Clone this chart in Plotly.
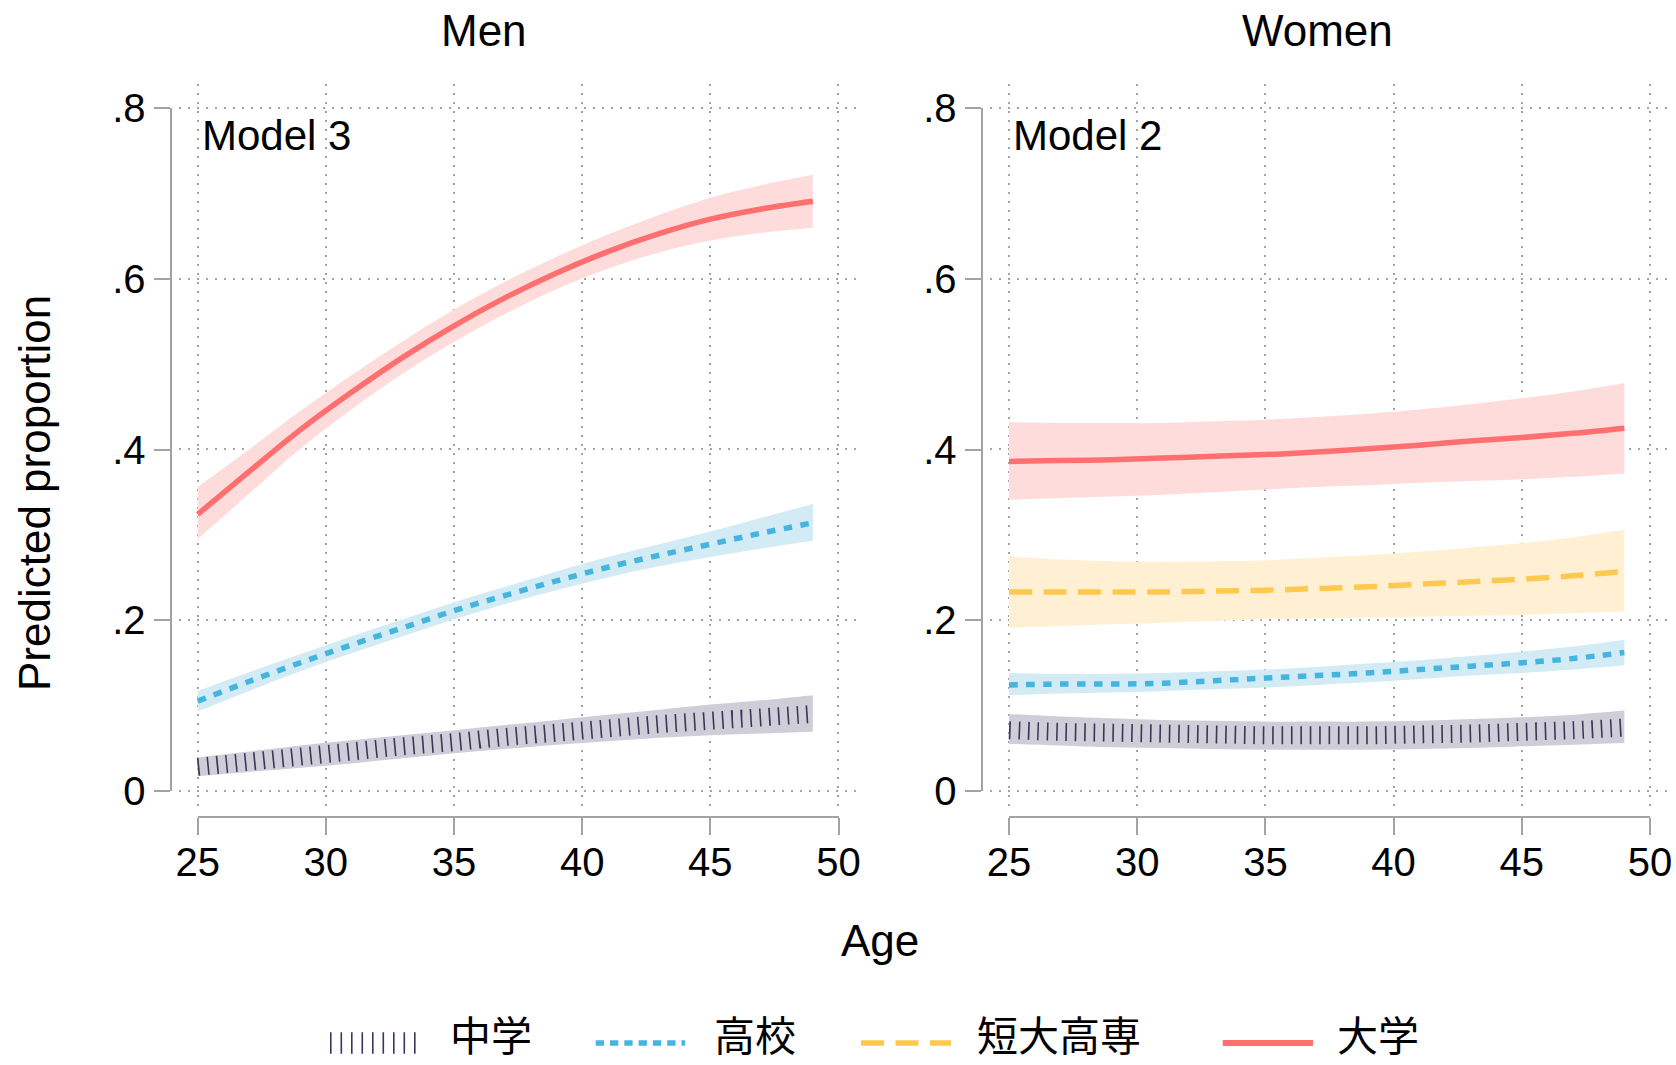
import plotly.graph_objects as go

W, H = 1676, 1065

# ---------------- data ----------------
ages = [25, 27, 29, 31, 33, 35, 37, 39, 41, 43, 45, 47, 49]
groups = ["中学", "高校", "短大高専", "大学"]

# Men (Model 3)
men_chu = [0.028, 0.034, 0.040, 0.046, 0.052, 0.057, 0.063, 0.068, 0.073, 0.078, 0.082, 0.086, 0.090]
men_chu_lo = [0.017, 0.022, 0.027, 0.032, 0.038, 0.044, 0.049, 0.054, 0.058, 0.062, 0.065, 0.067, 0.069]
men_chu_hi = [0.039, 0.046, 0.053, 0.059, 0.065, 0.071, 0.077, 0.083, 0.089, 0.095, 0.101, 0.106, 0.112]

men_kou = [0.105, 0.128, 0.150, 0.171, 0.191, 0.211, 0.229, 0.246, 0.262, 0.276, 0.289, 0.302, 0.314]
men_kou_lo = [0.093, 0.117, 0.140, 0.161, 0.181, 0.201, 0.219, 0.235, 0.250, 0.263, 0.274, 0.284, 0.293]
men_kou_hi = [0.117, 0.139, 0.160, 0.181, 0.201, 0.221, 0.239, 0.257, 0.274, 0.289, 0.304, 0.320, 0.336]

men_dai = [0.324, 0.374, 0.423, 0.467, 0.508, 0.545, 0.578, 0.607, 0.632, 0.653, 0.670, 0.682, 0.691]
men_dai_lo = [0.295, 0.348, 0.401, 0.447, 0.489, 0.526, 0.559, 0.588, 0.612, 0.631, 0.645, 0.654, 0.660]
men_dai_hi = [0.356, 0.400, 0.445, 0.487, 0.527, 0.564, 0.597, 0.626, 0.652, 0.675, 0.695, 0.710, 0.722]

# Women (Model 2)
wom_chu = [0.071, 0.069, 0.068, 0.067, 0.066, 0.065, 0.065, 0.065, 0.066, 0.067, 0.069, 0.071, 0.074]
wom_chu_lo = [0.055, 0.053, 0.051, 0.050, 0.049, 0.048, 0.048, 0.048, 0.049, 0.050, 0.052, 0.054, 0.056]
wom_chu_hi = [0.090, 0.087, 0.085, 0.083, 0.082, 0.081, 0.081, 0.081, 0.082, 0.084, 0.086, 0.089, 0.094]

wom_kou = [0.124, 0.125, 0.125, 0.126, 0.129, 0.132, 0.135, 0.138, 0.142, 0.146, 0.150, 0.155, 0.162]
wom_kou_lo = [0.112, 0.114, 0.115, 0.117, 0.119, 0.121, 0.124, 0.127, 0.131, 0.135, 0.138, 0.142, 0.147]
wom_kou_hi = [0.138, 0.137, 0.137, 0.138, 0.140, 0.142, 0.145, 0.149, 0.153, 0.158, 0.163, 0.169, 0.177]

wom_tan = [0.233, 0.233, 0.233, 0.233, 0.234, 0.235, 0.237, 0.239, 0.242, 0.245, 0.248, 0.252, 0.257]
wom_tan_lo = [0.191, 0.193, 0.195, 0.197, 0.199, 0.201, 0.202, 0.203, 0.204, 0.205, 0.206, 0.208, 0.210]
wom_tan_hi = [0.275, 0.271, 0.269, 0.268, 0.269, 0.270, 0.273, 0.276, 0.280, 0.285, 0.290, 0.297, 0.306]

wom_dai = [0.386, 0.387, 0.388, 0.390, 0.392, 0.394, 0.397, 0.401, 0.405, 0.410, 0.414, 0.419, 0.425]
wom_dai_lo = [0.341, 0.343, 0.345, 0.347, 0.350, 0.353, 0.356, 0.358, 0.361, 0.363, 0.365, 0.368, 0.372]
wom_dai_hi = [0.432, 0.431, 0.431, 0.431, 0.433, 0.435, 0.438, 0.442, 0.447, 0.453, 0.460, 0.468, 0.478]

x_ticks = [25, 30, 35, 40, 45, 50]
y_ticks = [0, 0.2, 0.4, 0.6, 0.8]
y_ticktext = ["0", ".2", ".4", ".6", ".8"]
panel_titles = ["Men", "Women"]
model_labels = ["Model 3", "Model 2"]

# ---------------- styles ----------------
LINE_COL = {"中学": "#38375a", "高校": "#45b5e0", "短大高専": "#ffc94f", "大学": "#ff6f6f"}
BAND_COL = {"中学": "#cfcdd8", "高校": "#d2ebf5", "短大高専": "#fff0d3", "大学": "#ffdcdc"}
LINE_W = {"中学": 18, "高校": 5.5, "短大高専": 5.5, "大学": 5.5}
LINE_DASH = {"中学": "1.6px,7.8px", "高校": "8.5px,8.5px",
             "短大高専": "23px,11.5px", "大学": "solid"}
AXCOL = "#a3a3a3"
LATIN = "Liberation Sans, Arial, sans-serif"
CJK = "Noto Sans CJK JP"


def px(x):
    return x / W


def py(y):
    return 1 - y / H


fig = go.Figure()

panels = [
    ("x", "y", [("中学", men_chu, men_chu_lo, men_chu_hi),
                ("高校", men_kou, men_kou_lo, men_kou_hi),
                ("大学", men_dai, men_dai_lo, men_dai_hi)]),
    ("x2", "y2", [("中学", wom_chu, wom_chu_lo, wom_chu_hi),
                  ("高校", wom_kou, wom_kou_lo, wom_kou_hi),
                  ("短大高専", wom_tan, wom_tan_lo, wom_tan_hi),
                  ("大学", wom_dai, wom_dai_lo, wom_dai_hi)]),
]

for xa, ya, series in panels:
    for name, mid, lo, hi in series:
        fig.add_trace(go.Scatter(x=ages, y=lo, xaxis=xa, yaxis=ya, mode="lines",
                                 line=dict(width=0, shape="spline", color=BAND_COL[name]),
                                 showlegend=False, hoverinfo="skip"))
        fig.add_trace(go.Scatter(x=ages, y=hi, xaxis=xa, yaxis=ya, mode="lines",
                                 line=dict(width=0, shape="spline", color=BAND_COL[name]),
                                 fill="tonexty", fillcolor=BAND_COL[name],
                                 showlegend=False, hoverinfo="skip"))
        fig.add_trace(go.Scatter(x=ages, y=mid, xaxis=xa, yaxis=ya, mode="lines", name=name,
                                 line=dict(width=LINE_W[name], shape="spline",
                                           color=LINE_COL[name], dash=LINE_DASH[name]),
                                 showlegend=False))

# dummy traces to host the tick axes
for xa, ya in [("x3", "y3"), ("x4", "y4")]:
    fig.add_trace(go.Scatter(x=[30], y=[0.4], xaxis=xa, yaxis=ya, mode="markers",
                             marker=dict(opacity=0), showlegend=False, hoverinfo="skip"))

# ---------------- geometry ----------------
X25 = [197.7, 1009.0]
X50 = [838.5, 1650.0]
Y0, Y8 = 790.7, 108.3
XRANGE = [24.27, 50.76]
YRANGE = [-0.025, 0.8285]
AX_Y = 816.7
AX_X = [170.7, 981.7]

grid_common = dict(showgrid=True, gridcolor=AXCOL, gridwidth=1.5, griddash="2px,7px",
                   zeroline=False, showline=False, ticks="", showticklabels=False,
                   fixedrange=True, automargin=False)

layout = dict(width=W, height=H, margin=dict(l=0, r=0, t=0, b=0, pad=0, autoexpand=False),
              paper_bgcolor="white", plot_bgcolor="rgba(0,0,0,0)",
              showlegend=False, font=dict(family=LATIN, color="black"))

main_names = [("xaxis", "yaxis"), ("xaxis2", "yaxis2")]
tick_names = [("xaxis3", "yaxis3"), ("xaxis4", "yaxis4")]
anchors = [("y", "x"), ("y2", "x2")]
for i in range(2):
    sc = (X50[i] - X25[i]) / 25.0
    left = X25[i] - (25 - XRANGE[0]) * sc
    right = X50[i] + (XRANGE[1] - 50) * sc
    ysc = (Y0 - Y8) / 0.8
    top = Y8 - (YRANGE[1] - 0.8) * ysc
    bot = Y0 - YRANGE[0] * ysc
    xn, yn = main_names[i]
    layout[xn] = dict(domain=[px(left), px(right)], range=XRANGE, anchor=anchors[i][0],
                      tickvals=x_ticks, **grid_common)
    layout[yn] = dict(domain=[py(bot), py(top)], range=YRANGE, anchor=anchors[i][1],
                      tickvals=y_ticks, **grid_common)
    txn, tyn = tick_names[i]
    layout[txn] = dict(domain=[px(X25[i]), px(X50[i])], range=[25, 50], anchor="free",
                       position=py(AX_Y), showline=True, linecolor=AXCOL, linewidth=2.4,
                       ticks="outside", ticklen=17, tickwidth=2.4, tickcolor=AXCOL,
                       tickvals=x_ticks, ticktext=[str(v) for v in x_ticks],
                       ticklabelstandoff=-7,
                       tickfont=dict(size=40, family=LATIN, color="black"),
                       showgrid=False, zeroline=False, fixedrange=True, automargin=False)
    layout[tyn] = dict(domain=[py(Y0), py(Y8)], range=[0, 0.8], anchor="free",
                       position=px(AX_X[i]), showline=True, linecolor=AXCOL, linewidth=2.4,
                       ticks="outside", ticklen=16, tickwidth=2.4, tickcolor=AXCOL,
                       tickvals=y_ticks, ticktext=y_ticktext,
                       tickfont=dict(size=40, family=LATIN, color="black"),
                       showgrid=False, zeroline=False, fixedrange=True, automargin=False)

fig.update_layout(**layout)

# ---------------- text ----------------
ann = []
title_x = [483.7, 1317.5]
model_x = [200.0, 1011.0]
for i in range(2):
    ann.append(dict(text=panel_titles[i], x=px(title_x[i]), y=py(31), xref="paper", yref="paper",
                    xanchor="center", yanchor="middle", showarrow=False,
                    font=dict(size=44, family=LATIN, color="black")))
    ann.append(dict(text=model_labels[i], x=px(model_x[i]), y=py(136), xref="paper", yref="paper",
                    xanchor="left", yanchor="middle", showarrow=False,
                    font=dict(size=42, family=LATIN, color="black")))
ann.append(dict(text="Predicted proportion", x=px(34), y=py(493), xref="paper", yref="paper",
                xanchor="center", yanchor="middle", textangle=-90, showarrow=False,
                font=dict(size=44, family=LATIN, color="black")))
ann.append(dict(text="Age", x=px(880), y=py(940), xref="paper", yref="paper",
                xanchor="center", yanchor="middle", showarrow=False,
                font=dict(size=44, family=LATIN, color="black")))

# ---------------- custom legend ----------------
LEG_Y = 1043
leg_samples = {"中学": (330, 416, 21.6, "1.6px,8.9px"),
               "高校": (595.7, 685, 5.5, "8.3px,6px"),
               "短大高専": (861, 951, 5.5, "23px,11.5px"),
               "大学": (1222.8, 1313, 6, "solid")}
leg_text_x = {"中学": 449, "高校": 713, "短大高専": 976, "大学": 1336}
shapes = []
for g in groups:
    x0, x1, w, d = leg_samples[g]
    shapes.append(dict(type="line", xref="paper", yref="paper", x0=px(x0), x1=px(x1),
                       y0=py(LEG_Y), y1=py(LEG_Y),
                       line=dict(color=LINE_COL[g], width=w, dash=d)))
    ann.append(dict(text=g, x=px(leg_text_x[g]), y=py(1033), xref="paper", yref="paper",
                    xanchor="left", yanchor="middle", showarrow=False, borderpad=0,
                    font=dict(size=41, family=CJK, color="black")))

fig.update_layout(annotations=ann, shapes=shapes)
fig.write_html("out.html", config={"displayModeBar": False},
               post_script="document.body.style.margin='0px';document.body.style.overflow='hidden';")
